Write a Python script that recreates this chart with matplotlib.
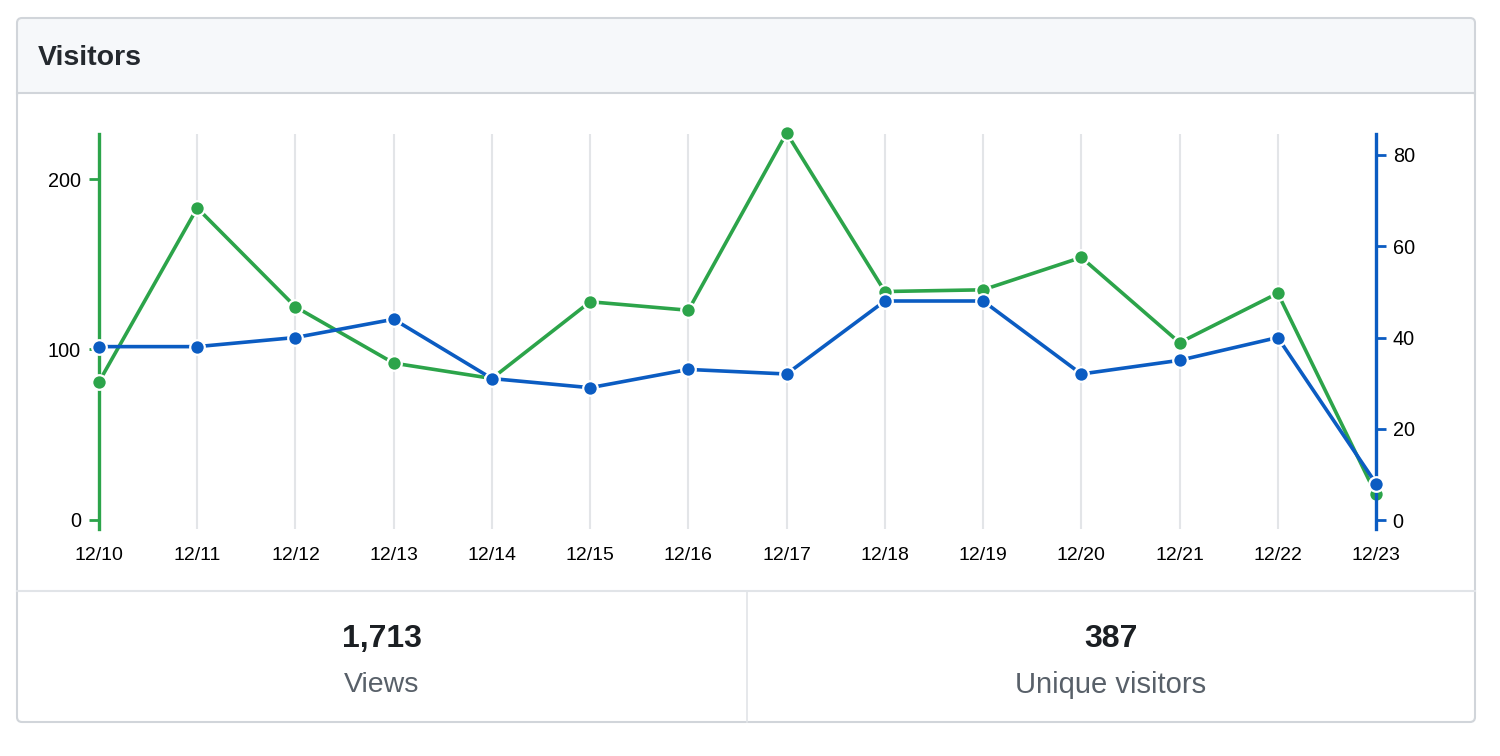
import matplotlib
matplotlib.use("Agg")
import matplotlib.pyplot as plt
from matplotlib.patches import FancyBboxPatch
from matplotlib.lines import Line2D
from matplotlib.transforms import IdentityTransform

W, H = 1500, 756

dates = ["12/10", "12/11", "12/12", "12/13", "12/14", "12/15", "12/16",
         "12/17", "12/18", "12/19", "12/20", "12/21", "12/22", "12/23"]
views = [81, 183, 125, 92, 83, 128, 123, 227, 134, 135, 154, 104, 133, 15]
uniques = [38, 38, 40, 44, 31, 29, 33, 32, 48, 48, 32, 35, 40, 8]
views_ticks = [0, 100, 200]
uniques_ticks = [0, 20, 40, 60, 80]
total_views = "1,713"
total_uniques = "387"

GREEN = "#2ca44a"
BLUE = "#0b5cc2"
BORDER = "#d1d5da"
GRID = "#e3e5e8"
DARK = "#24292e"
GREY = "#586069"

plt.rcParams["font.family"] = ["Liberation Sans", "DejaVu Sans"]

fig = plt.figure(figsize=(W / 100, H / 100), dpi=100)
fig.patch.set_facecolor("white")


def px(x0, y0, x1, y1):
    # pixel box (top-left origin) -> display coords (bottom-left origin)
    return x0, H - y1, x1 - x0, y1 - y0


ident = IdentityTransform()

# panel frame
x, y, w, h = px(17, 18, 1475, 722)
fig.add_artist(FancyBboxPatch((x, y), w, h, boxstyle="round,pad=0,rounding_size=5",
                              transform=ident, facecolor="#f6f8fa", edgecolor="none", zorder=0))
x, y, w, h = px(18, 93, 1474, 721)
fig.add_artist(FancyBboxPatch((x, y), w, h, boxstyle="round,pad=0,rounding_size=4",
                              transform=ident, facecolor="white", edgecolor="none", zorder=0))
x, y, w, h = px(17, 18, 1475, 722)
fig.add_artist(FancyBboxPatch((x, y), w, h, boxstyle="round,pad=0,rounding_size=5",
                              transform=ident, facecolor="none", edgecolor=BORDER,
                              linewidth=1.5, zorder=1))
fig.add_artist(Line2D([17, 1475], [H - 93, H - 93], transform=ident, color=BORDER, lw=1.5))
fig.add_artist(Line2D([17, 1475], [H - 591, H - 591], transform=ident, color="#e1e4e8", lw=1.5))
fig.add_artist(Line2D([747, 747], [H - 591, H - 722], transform=ident, color="#e1e4e8", lw=1.2))

fig.text(38 / W, 1 - 58 / H, "Visitors", fontsize=20.5, fontweight="bold", color=DARK,
         ha="left", va="center")
fig.text(382 / W, 1 - 639 / H, total_views, fontsize=23, fontweight="bold", color="#1b1f23",
         ha="center", va="center")
fig.text(382 / W, 1 - 685 / H, "Views", fontsize=20.5, color=GREY, ha="center", va="center")
fig.text(1111 / W, 1 - 639 / H, total_uniques, fontsize=23, fontweight="bold", color="#1b1f23",
         ha="center", va="center")
fig.text(1111 / W, 1 - 685 / H, "Unique visitors", fontsize=21, color=GREY,
         ha="center", va="center")

# chart axes
left, right, top, bottom = 99, 1376, 134, 529
ax = fig.add_axes([left / W, 1 - bottom / H, (right - left) / W, (bottom - top) / H])
ax.set_facecolor("none")
ax2 = ax.twinx()

xs = list(range(len(dates)))
ax.plot(xs, views, color=GREEN, lw=2.6, marker="o", markersize=10.5,
        markeredgecolor="white", markeredgewidth=1.6, clip_on=False, zorder=3)
ax2.plot(xs, uniques, color=BLUE, lw=2.6, marker="o", markersize=10.5,
         markeredgecolor="white", markeredgewidth=1.6, clip_on=False, zorder=3)

ax.set_xlim(0, len(dates) - 1)
ax.set_ylim(-5.3, 226.4)
ax2.set_ylim(-1.97, 84.6)

ax.set_xticks(xs)
ax.set_xticklabels(dates)
ax.grid(axis="x", color=GRID, lw=1.5)
ax.set_axisbelow(True)
ax.tick_params(axis="x", length=0, pad=13, labelsize=14, colors="black")

ax.set_yticks(views_ticks)
ax.tick_params(axis="y", length=7, width=2, color=GREEN, pad=6, labelsize=14.3,
               labelcolor="black")
ax2.set_yticks(uniques_ticks)
ax2.tick_params(axis="y", length=7, width=2, color=BLUE, pad=5, labelsize=14.3,
                labelcolor="black")
# the zero tick on the right is covered by the green zero tick in the original
ax2.yaxis.get_major_ticks()[0].tick2line.set_color(GREEN)

for a in (ax, ax2):
    for s in ("top", "bottom"):
        a.spines[s].set_visible(False)
ax.spines["right"].set_visible(False)
ax2.spines["left"].set_visible(False)
ax.spines["left"].set_color(GREEN)
ax.spines["left"].set_linewidth(2.4)
ax2.spines["right"].set_color(BLUE)
ax2.spines["right"].set_linewidth(2.4)

fig.savefig("out.png", dpi=100, facecolor="white")
